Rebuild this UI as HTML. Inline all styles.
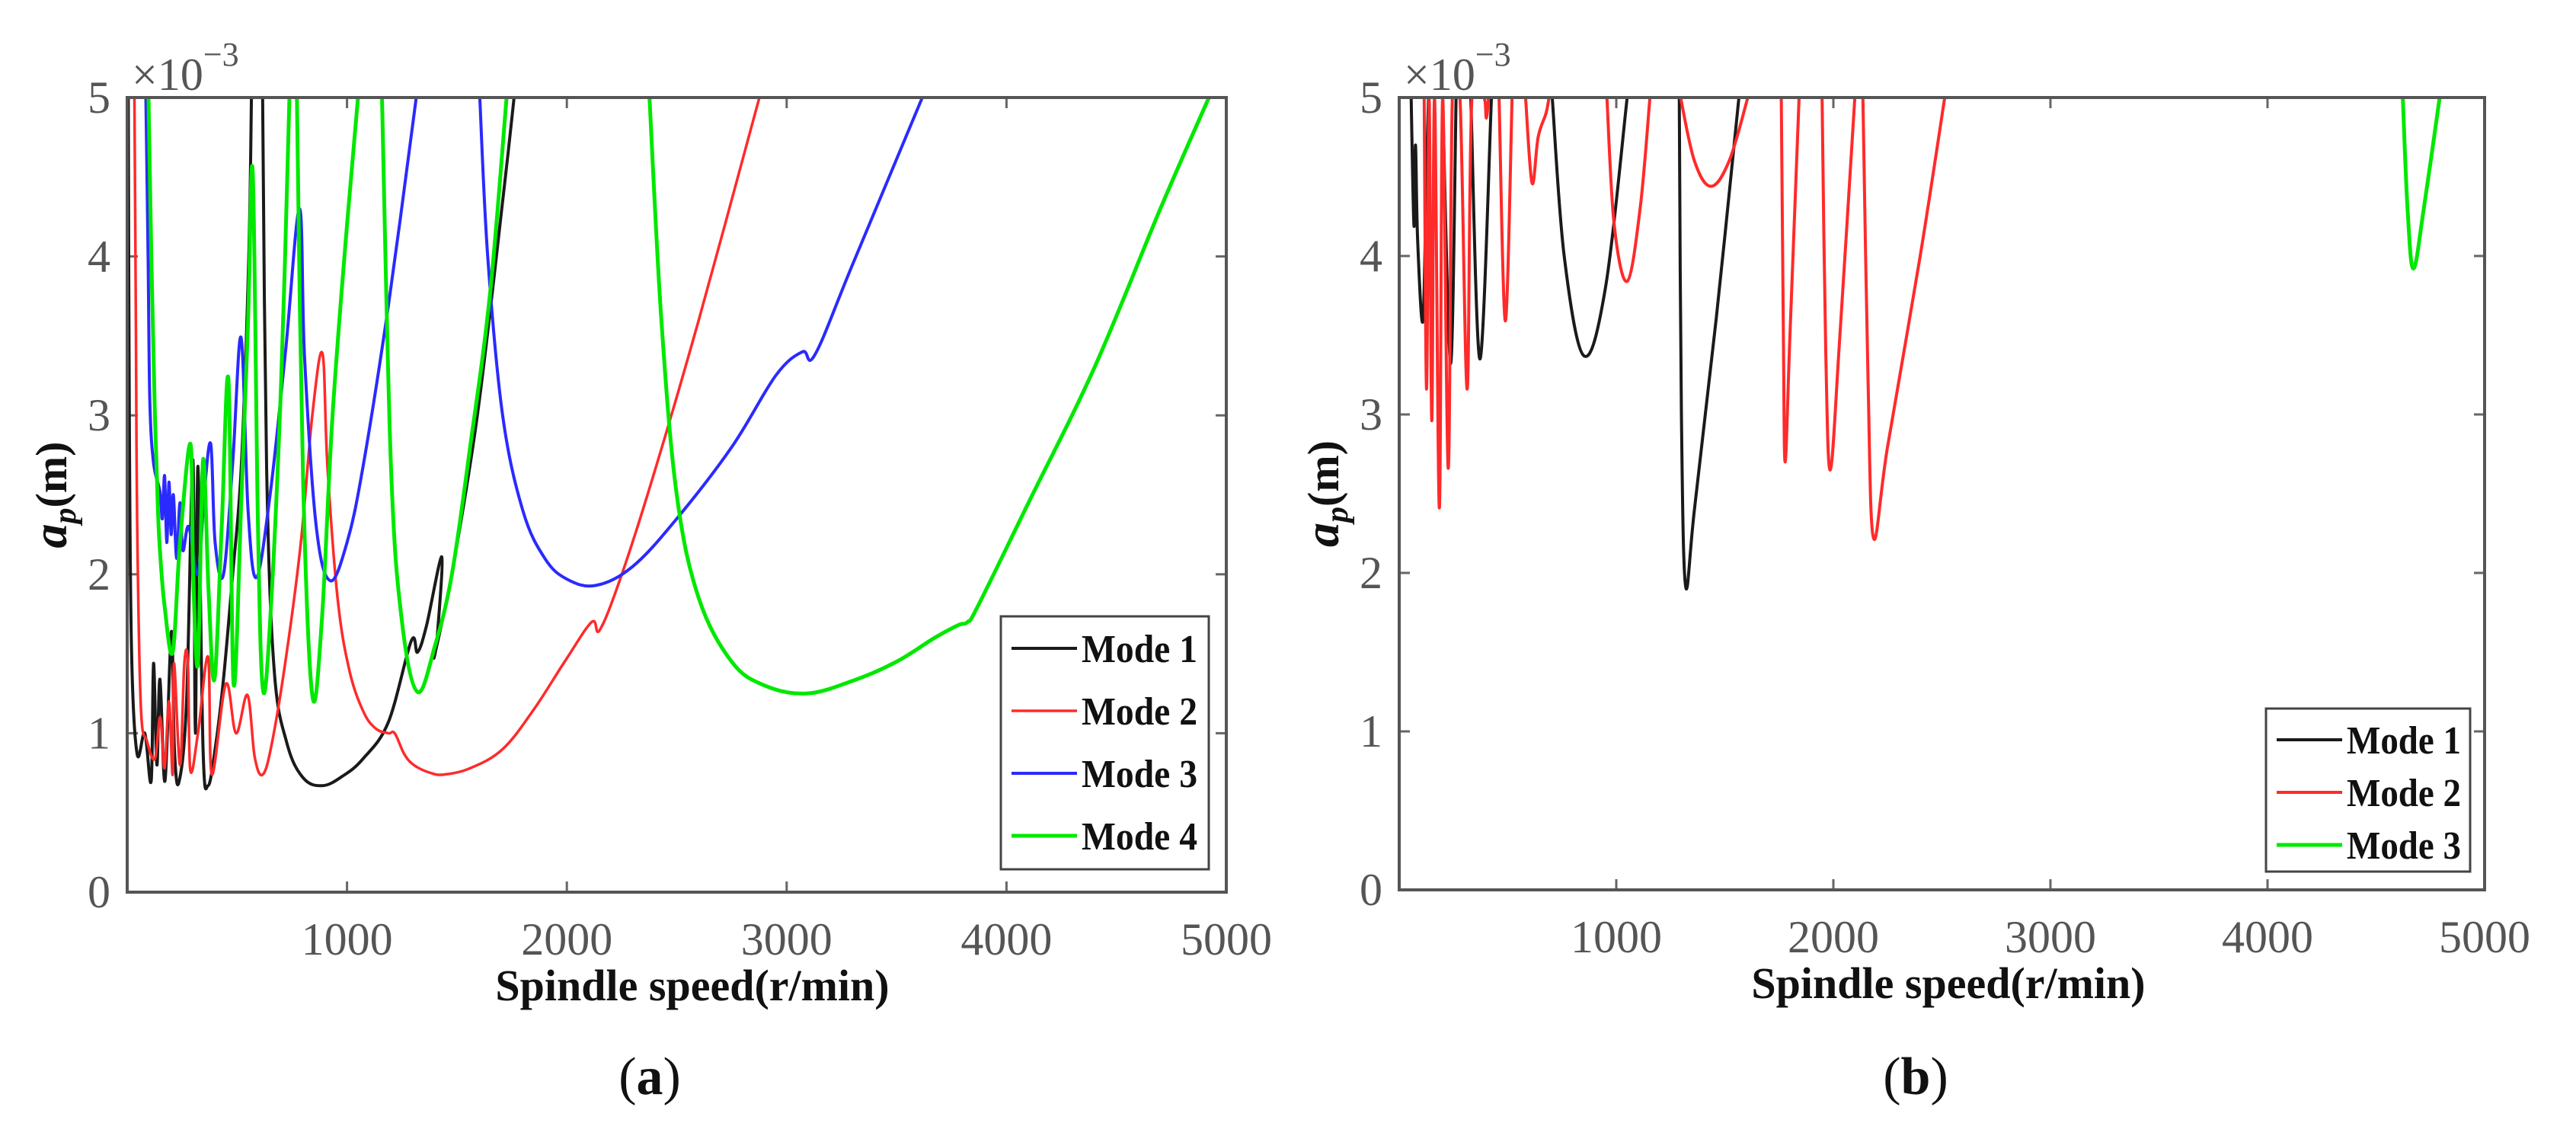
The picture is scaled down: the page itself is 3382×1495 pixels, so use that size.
<!DOCTYPE html>
<html><head><meta charset="utf-8"><style>
html,body{margin:0;padding:0;background:#fff;}
svg{display:block;}
.tick{font-family:"Liberation Serif",serif;font-size:60px;fill:#555;}
.ttl{font-family:"Liberation Serif",serif;font-weight:bold;font-size:58px;fill:#111;}
.leg{font-family:"Liberation Serif",serif;font-weight:bold;font-size:52px;fill:#111;}
.cap{font-family:"Liberation Serif",serif;font-size:70px;fill:#111;}
</style></head><body>
<svg id="fig" width="3382" height="1495" viewBox="0 0 3382 1495" xmlns="http://www.w3.org/2000/svg"></svg>
<script>
// ---- data: [rpm, ap(x1e-3 m)], null breaks a branch ----
const xTicks = [1000, 2000, 3000, 4000, 5000];
const yTicks = [0, 1, 2, 3, 4, 5];
const aMode1 = [[5,5],[10,2.9],[20,1.5],[45,0.87],[80,1.0],[109,0.7],[120,1.44],[135,0.8],[149,1.34],[172,0.7],[201,1.64],[215,0.9],[235,0.69],[270,1.2],[299,2.72],[310,1.0],[322,2.68],[345,0.9],[368,0.67],[400,0.9],[438,1.34],[480,2.0],[519,2.68],[553,4.0],[565,5],null,
 [616,5],[634,2.68],[668,1.41],[726,0.94],[800,0.72],[888,0.67],[980,0.73],[1073,0.84],[1188,1.07],[1292,1.58],[1321,1.51],[1362,1.68],[1431,2.11],[1410,1.6],[1396,1.48],[1440,1.75],[1477,2.0],[1593,3.0],[1709,4.36],[1760,5]];
const aMode2 = [[33,5],[40,3.5],[45,2.35],[62,1.17],[90,0.95],[126,0.84],[150,1.1],[170,0.78],[190,1.2],[207,0.74],[213,1.44],[240,0.8],[260,1.44],[276,1.44],[287,0.77],[322,1.0],[368,1.48],[385,0.74],[449,1.31],[495,1.0],[547,1.24],[580,0.85],[617,0.74],[660,0.95],[726,1.51],[790,2.2],[842,3.0],[888,3.39],[911,2.68],[957,1.85],[1010,1.4],[1073,1.14],[1130,1.03],[1188,1.0],[1217,1.0],[1260,0.87],[1304,0.8],[1380,0.75],[1442,0.74],[1560,0.78],[1708,0.9],[1850,1.15],[1990,1.45],[2113,1.7],[2150,1.65],[2250,2.0],[2400,2.65],[2600,3.6],[2876,5]];
const aMode3 = [[85,5],[95,4.0],[103,3.09],[120,2.7],[149,2.52],[160,2.35],[170,2.62],[180,2.2],[190,2.58],[200,2.25],[210,2.5],[225,2.1],[240,2.45],[253,2.15],[280,2.3],[322,2.0],[350,2.5],[380,2.82],[400,2.2],[438,2.0],[480,2.7],[518,3.49],[550,2.4],[588,1.98],[650,2.5],[720,3.4],[784,4.3],[807,3.36],[860,2.3],[923,1.96],[1000,2.2],[1073,2.68],[1188,3.69],[1315,5],null,
 [1604,5],[1640,4.0],[1708,3.0],[1800,2.4],[1900,2.1],[2000,1.97],[2132,1.93],[2300,2.05],[2500,2.35],[2750,2.8],[2950,3.25],[3071,3.4],[3128,3.38],[3300,3.95],[3617,5]];
const aMode4 = [[97,5],[110,4.0],[126,3.0],[140,2.4],[149,2.15],[170,1.8],[207,1.51],[240,2.2],[288,2.82],[300,2.0],[322,1.44],[345,2.72],[370,1.9],[397,1.34],[430,2.3],[461,3.22],[484,1.31],[520,2.5],[550,3.6],[571,4.53],[595,2.3],[617,1.28],[650,1.7],[700,3.2],[738,5],null,
 [772,5],[800,2.6],[842,1.24],[885,1.7],[934,3.0],[1000,4.2],[1050,5],null,
 [1159,5],[1200,2.68],[1250,1.7],[1321,1.26],[1400,1.55],[1477,2.0],[1560,2.8],[1650,3.76],[1726,5],null,
 [2376,5],[2430,3.6],[2500,2.5],[2600,1.85],[2750,1.45],[2900,1.3],[3090,1.25],[3300,1.33],[3500,1.45],[3673,1.6],[3780,1.68],[3823,1.7],[3870,1.8],[4100,2.45],[4400,3.3],[4700,4.3],[4921,5]];
const bMode1 = [[55,5],[68,4.19],[75,4.7],[85,4.1],[109,3.59],[125,4.5],[135,5],null,[200,5],[237,3.32],[262,5],null,[330,5],[372,3.35],[425,5],null,
 [705,5],[760,4.0],[851,3.37],[950,3.8],[1050,5],null,[1290,5],[1300,3.0],[1319,1.92],[1360,2.4],[1460,3.6],[1565,5]];
const bMode2 = [[115,5],[126,3.16],[138,5],[150,2.96],[163,5],[185,2.41],[200,5],[226,2.66],[245,5],[280,5],[313,3.16],[335,5],[390,5],[401,4.87],[412,5],null,
 [460,5],[489,3.59],[520,5],null,[582,5],[612,4.46],[640,4.75],[676,4.9],[690,5],null,
 [957,5],[990,4.2],[1050,3.84],[1110,4.3],[1155,5],null,[1296,5],[1360,4.6],[1436,4.44],[1520,4.6],[1606,5],null,
 [1760,5],[1770,3.5],[1778,2.7],[1800,3.5],[1842,5],null,[1948,5],[1965,3.4],[1986,2.65],[2030,3.5],[2099,5],null,[2136,5],[2160,3.2],[2185,2.22],[2250,2.8],[2400,4.0],[2513,5]];
const bMode3 = [[4623,5],[4645,4.3],[4672,3.92],[4720,4.3],[4793,5]];

const NS = "http://www.w3.org/2000/svg";
const svg = document.getElementById('fig');
function mk(tag, attrs, parent){ const e=document.createElementNS(NS,tag); for(const k in attrs) e.setAttribute(k,attrs[k]); (parent||svg).appendChild(e); return e; }

function smoothPath(pts){
  if(pts.length<2) return '';
  let d='M'+pts[0][0].toFixed(1)+' '+pts[0][1].toFixed(1);
  const t=0.35;
  for(let i=0;i<pts.length-1;i++){
    const p0=pts[i-1]||pts[i], p1=pts[i], p2=pts[i+1], p3=pts[i+2]||p2;
    const c1=[p1[0]+(p2[0]-p0[0])*t/2*1, p1[1]+(p2[1]-p0[1])*t/2];
    const c2=[p2[0]-(p3[0]-p1[0])*t/2, p2[1]-(p3[1]-p1[1])*t/2];
    d+='C'+c1[0].toFixed(1)+' '+c1[1].toFixed(1)+' '+c2[0].toFixed(1)+' '+c2[1].toFixed(1)+' '+p2[0].toFixed(1)+' '+p2[1].toFixed(1);
  }
  return d;
}

function panel(id, L, R, T, B, series, legend, labelX, capLabel){
  const g = mk('g',{});
  
  
  const sx = v => L + (R-L)*v/5000;
  const sy = v => B - (B-T)*v/5;
  const cp = mk('clipPath',{id:'clip'+id}, g);
  mk('rect',{x:L,y:T,width:R-L,height:B-T}, cp);
  xTicks.forEach(t=>{
    const lb = mk('text',{x:sx(t),y:B+82,'text-anchor':'middle',class:'tick'},g);
    lb.textContent = t;
    
    
    mk('line',{x1:sx(t),x2:sx(t),y1:B,y2:B-14,stroke:'#666','stroke-width':3},g);
    mk('line',{x1:sx(t),x2:sx(t),y1:T,y2:T+14,stroke:'#666','stroke-width':3},g);
  });
  yTicks.forEach(t=>{
    const lb = mk('text',{x:L-22,y:sy(t)+20,'text-anchor':'end',class:'tick'},g);
    lb.textContent = t;
    
    
    mk('line',{x1:L,x2:L+14,y1:sy(t),y2:sy(t),stroke:'#666','stroke-width':3},g);
    mk('line',{x1:R,x2:R-14,y1:sy(t),y2:sy(t),stroke:'#666','stroke-width':3},g);
  });
  series.forEach(s=>{
    let d='', seg=[];
    const flush=()=>{ d+=smoothPath(seg); seg=[]; };
    s.data.forEach(p=>{ if(!p){flush();return;} seg.push([sx(p[0]),sy(p[1])]); });
    flush();
    const path = mk('path',{d:d,fill:'none',stroke:s.color,'stroke-width':s.w,'stroke-linejoin':'round','clip-path':'url(#clip'+id+')'},g);
    
    
  });
  const box = mk('rect',{x:L,y:T,width:R-L,height:B-T,fill:'none',stroke:'#555','stroke-width':4},g);
  
  
  const ex = mk('text',{x:L+6,y:T-10,class:'tick','font-size':'56'},g);
  
  
  ex.innerHTML = '×10<tspan dy="-32" font-size="44">−3</tspan>';
  const xt = mk('text',{x:labelX,y:B+142,'text-anchor':'middle',class:'ttl'},g);
  xt.textContent = 'Spindle speed(r/min)';
  
  
  const yt = mk('text',{x:0,y:0,'text-anchor':'middle',class:'ttl',transform:'translate('+(L-80)+','+((T+B)/2)+') rotate(-90)'},g);
  yt.innerHTML = '<tspan font-style="italic" font-size="64">a</tspan><tspan font-style="italic" font-size="42" dy="12">p</tspan><tspan dy="-12">(m)</tspan>';
  
  
  const lg = mk('g',{},g);
  
  
  mk('rect',{x:legend.x,y:legend.y,width:legend.w,height:legend.h,fill:'#fff',stroke:'#444','stroke-width':3},lg);
  series.forEach((s,i)=>{
    const yy = legend.y0 + i*legend.dy;
    const e = mk('g',{},lg);
    
    
    mk('line',{x1:legend.x+14,x2:legend.x+100,y1:yy,y2:yy,stroke:s.color,'stroke-width':s.w},e);
    const t = mk('text',{x:legend.x+106,y:yy+18,class:'leg',textLength:legend.tl,lengthAdjust:'spacingAndGlyphs'},e);
    t.textContent = s.label;
  });
  const cap = mk('text',{x:capLabel.x,y:1436,'text-anchor':'middle',class:'cap'},g);
  cap.innerHTML = '(<tspan font-weight="bold">'+capLabel.t+'</tspan>)';
  
  
}

panel('a', 167, 1610, 128, 1171, [
  {name:'mode1-line', label:'Mode 1', color:'#1a1a1a', w:4, data:aMode1},
  {name:'mode2-line', label:'Mode 2', color:'#ff2a2a', w:3.5, data:aMode2},
  {name:'mode3-line', label:'Mode 3', color:'#2a2aff', w:4, data:aMode3},
  {name:'mode4-line', label:'Mode 4', color:'#00e800', w:5, data:aMode4}
], {x:1314,y:809,w:273,h:332,y0:851,dy:82,tl:152}, 909, {x:853,t:'a'});

panel('b', 1837, 3262, 128, 1168, [
  {name:'mode1-line', label:'Mode 1', color:'#1a1a1a', w:4, data:bMode1},
  {name:'mode2-line', label:'Mode 2', color:'#ff2a2a', w:4, data:bMode2},
  {name:'mode3-line', label:'Mode 3', color:'#00e800', w:5, data:bMode3}
], {x:2975,y:930,w:268,h:214,y0:971,dy:69,tl:150}, 2558, {x:2515,t:'b'});
</script>
</body></html>
